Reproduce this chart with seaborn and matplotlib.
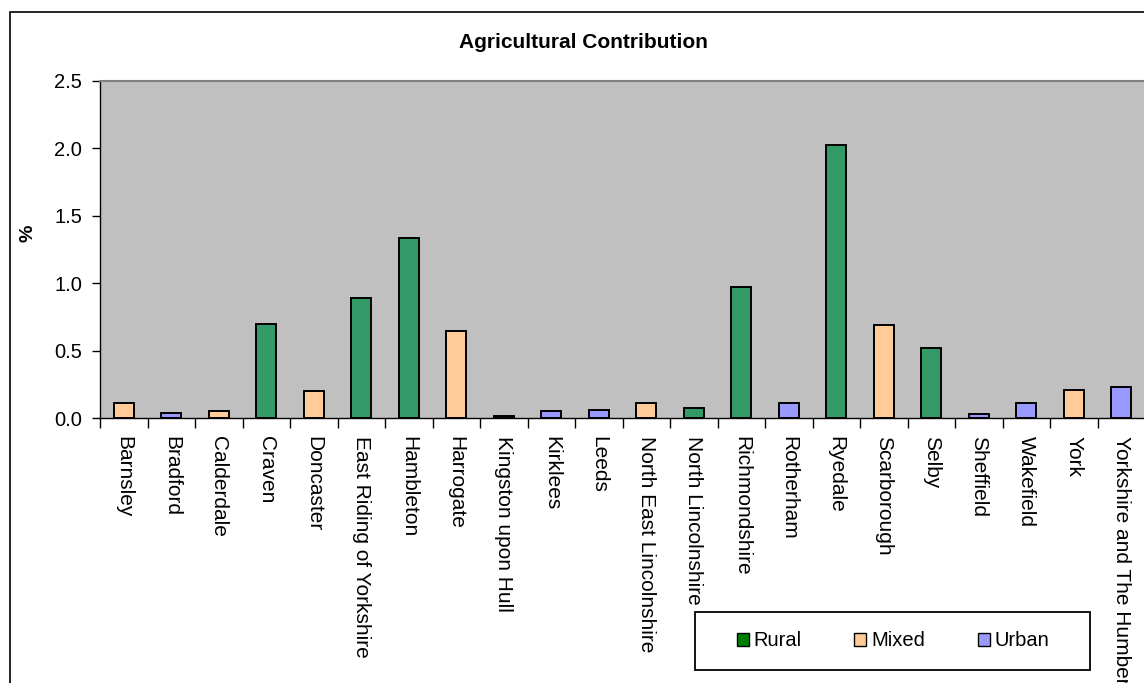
import matplotlib
matplotlib.use("Agg")
import matplotlib.pyplot as plt
from matplotlib.patches import Rectangle, Patch
import seaborn as sns
import pandas as pd

districts = ["Barnsley", "Bradford", "Calderdale", "Craven", "Doncaster",
             "East Riding of Yorkshire", "Hambleton", "Harrogate",
             "Kingston upon Hull", "Kirklees", "Leeds", "North East Lincolnshire",
             "North Lincolnshire", "Richmondshire", "Rotherham", "Ryedale",
             "Scarborough", "Selby", "Sheffield", "Wakefield", "York",
             "Yorkshire and The Humber"]
area_type = ["Mixed", "Urban", "Mixed", "Rural", "Mixed",
             "Rural", "Rural", "Mixed",
             "Urban", "Urban", "Urban", "Mixed",
             "Rural", "Rural", "Urban", "Rural",
             "Mixed", "Rural", "Urban", "Urban", "Mixed",
             "Urban"]
contribution = [0.11, 0.037, 0.05, 0.70, 0.20,
                0.89, 1.335, 0.645,
                0.015, 0.05, 0.06, 0.11,
                0.074, 0.97, 0.11, 2.025,
                0.69, 0.52, 0.027, 0.11, 0.205,
                0.23]

types = ["Rural", "Mixed", "Urban"]
bar_colors = {"Rural": "#339966", "Mixed": "#FFCC99", "Urban": "#9999FF"}
legend_colors = {"Rural": "#008000", "Mixed": "#FFCC99", "Urban": "#9999FF"}
yticks = [0.0, 0.5, 1.0, 1.5, 2.0, 2.5]

df = pd.DataFrame({"district": districts, "type": area_type, "value": contribution})

sns.set_style("white")
plt.rcParams["font.family"] = ["Liberation Sans", "DejaVu Sans"]
plt.rcParams["text.color"] = "black"
plt.rcParams["xtick.color"] = "black"
plt.rcParams["ytick.color"] = "black"
plt.rcParams["xtick.labelcolor"] = "black"
plt.rcParams["ytick.labelcolor"] = "black"

fig = plt.figure(figsize=(11.44, 6.83), dpi=100)
ax = fig.add_axes([100 / 1144, 1 - 418 / 683, 1045 / 1144, 337 / 683])

sns.barplot(data=df, x="district", y="value", hue="type", hue_order=types,
            palette=bar_colors, saturation=1, dodge=False, width=0.42,
            order=districts, edgecolor="black", linewidth=1.4, legend=False, ax=ax)

ax.set_facecolor("#C0C0C0")
ax.set_xlim(-0.5, len(districts) - 0.5)
ax.set_ylim(0, 2.5)
ax.set_yticks(yticks)
ax.set_yticklabels([f"{v:.1f}" for v in yticks], fontsize=14.5, color="black")
ax.set_xticks(range(len(districts)))
ax.set_xticklabels(districts, rotation=-90, fontsize=15, va="top", ha="center",
                   color="black")
ax.tick_params(axis="x", length=0, pad=13)
ax.tick_params(axis="y", length=6, width=1, color="black", left=True, pad=7)
# slot boundary ticks on the category axis
ax.set_xticks([i - 0.5 for i in range(len(districts) + 1)], minor=True)
ax.tick_params(axis="x", which="minor", length=7, width=1, color="black", bottom=True)
ax.set_xlabel("")
ax.set_ylabel("")

for side in ["left", "bottom"]:
    ax.spines[side].set_color("black")
    ax.spines[side].set_linewidth(1)
ax.spines["top"].set_color("#808080")
ax.spines["top"].set_linewidth(1.5)
ax.spines["right"].set_color("#808080")

fig.text(28 / 1144, 1 - 233 / 683, "%", rotation=90, ha="center", va="center",
         fontsize=14, fontweight="bold", color="black")
fig.text(583 / 1144, 1 - 43 / 683, "Agricultural Contribution", ha="center", va="center",
         fontsize=15, fontweight="bold", color="black")

# chart area border
fig.patches.append(Rectangle((10 / 1144, -0.1), 1.2, 1 - 12 / 683 + 0.1,
                             transform=fig.transFigure, fill=False,
                             edgecolor="black", linewidth=1.2, zorder=0))

# legend box
fig.patches.append(Rectangle((695 / 1144, 1 - 670 / 683), 395 / 1144, 58 / 683,
                             transform=fig.transFigure, facecolor="white",
                             edgecolor="black", linewidth=1.3, zorder=3))
handles = [Patch(facecolor=legend_colors[t], edgecolor="black", linewidth=1) for t in types]
leg = fig.legend(handles, types, ncol=3, fontsize=14.5,
                 loc="center", bbox_to_anchor=(893 / 1144, 1 - 641 / 683),
                 frameon=False, handlelength=0.6, handleheight=0.6,
                 handletextpad=0.25, columnspacing=2.6, borderpad=0, borderaxespad=0,
                 labelcolor="black")
leg.set_zorder(4)

fig.savefig("out.png", dpi=100, facecolor="white")
